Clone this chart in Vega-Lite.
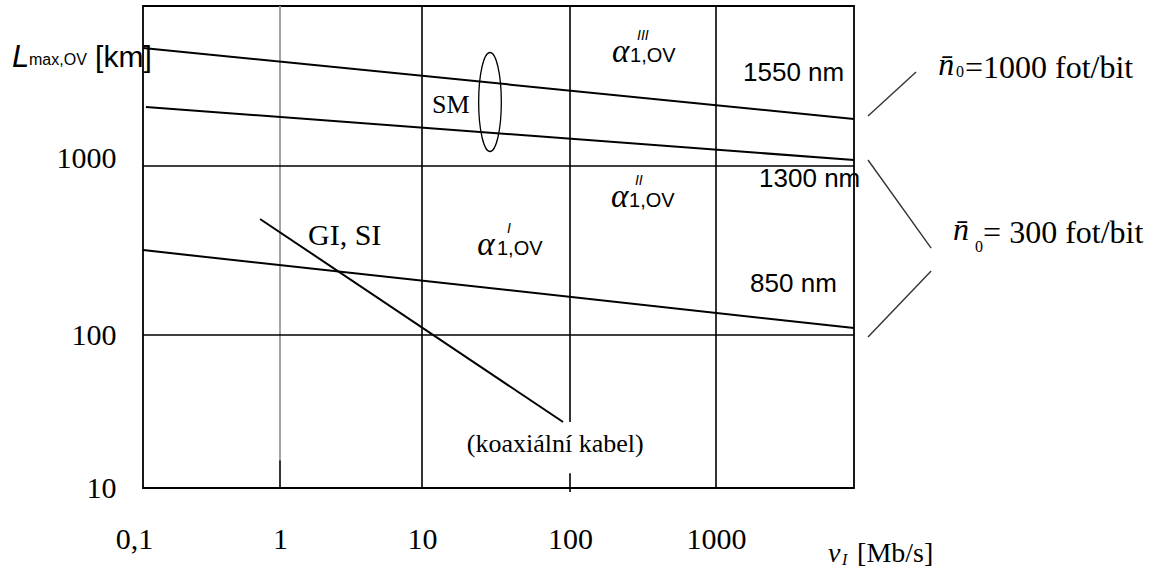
{
  "$schema": "https://vega.github.io/schema/vega-lite/v6.json",
  "width": 711,
  "height": 482,
  "autosize": {"type": "none"},
  "padding": {"left": 143, "top": 6, "right": 304, "bottom": 84},
  "background": "white",
  "config": {
    "view": {"stroke": "black", "strokeWidth": 1.8},
    "font": "Liberation Serif"
  },
  "datasets": {
    "curves": [
      {"s": "1550", "v": 0.1, "L": 5465}, {"s": "1550", "v": 8810, "L": 1968},
      {"s": "1300", "v": 0.105, "L": 2338}, {"s": "1300", "v": 8810, "L": 1090},
      {"s": "850", "v": 0.1, "L": 318}, {"s": "850", "v": 8810, "L": 110},
      {"s": "GI", "v": 0.715, "L": 486}, {"s": "GI", "v": 89.8, "L": 27}
    ],
    "brackets": [
      {"s": "a", "v": 10990, "L": 2054}, {"s": "a", "v": 23440, "L": 3868},
      {"s": "b", "v": 10990, "L": 1090}, {"s": "b", "v": 29730, "L": 327},
      {"s": "c", "v": 10990, "L": 97}, {"s": "c", "v": 29730, "L": 239}
    ],
    "vgrid": [
      {"v": 10, "L": 10000, "L2": 10},
      {"v": 1000, "L": 10000, "L2": 10},
      {"v": 100, "L": 10000, "L2": 27},
      {"v": 100, "L": 12.5, "L2": 9.4},
      {"v": 1, "L": 15.2, "L2": 10}
    ],
    "vgridGray": [{"v": 1, "L": 10000, "L2": 15.2}],
    "hgrid": [
      {"v": 0.1, "v2": 8810, "L": 1000},
      {"v": 0.1, "v2": 8810, "L": 100}
    ],
    "ellipse": [{"v": 28.8, "L": 2512}],
    "texts": [
      {"g": "sans26", "t": "1550 nm", "v": 1531, "L": 3398},
      {"g": "sans26", "t": "1300 nm", "v": 1972, "L": 752},
      {"g": "sans26", "t": "850 nm", "v": 1711, "L": 179.5},
      {"g": "sans20", "t": "1,OV", "v": 258, "L": 4467},
      {"g": "sans20", "t": "1,OV", "v": 253.6, "L": 571},
      {"g": "sans20", "t": "1,OV", "v": 32.1, "L": 297},
      {"g": "alpha", "t": "α", "v": 194, "L": 4467},
      {"g": "alpha", "t": "α", "v": 191, "L": 571},
      {"g": "alpha", "t": "α", "v": 23.6, "L": 297},
      {"g": "serifIt28", "t": "v", "v": 5847, "L": 3.28},
      {"g": "sup", "t": "III", "v": 288, "L": 6131},
      {"g": "sup", "t": "II", "v": 278.6, "L": 773},
      {"g": "sup", "t": "I", "v": 37.5, "L": 402},
      {"g": "serif26", "t": "SM", "v": 11.7, "L": 2143},
      {"g": "serif26", "t": "(koaxiální kabel)", "v": 20.1, "L": 17.2},
      {"g": "serif30", "t": "GI, SI", "v": 1.574, "L": 341},
      {"g": "serif32", "t": "=1000 fot/bit", "v": 50700, "L": 3548},
      {"g": "serif32", "t": "= 300 fot/bit", "v": 67450, "L": 350},
      {"g": "nbar", "t": "n̄", "v": 33200, "L": 3704},
      {"g": "nbar", "t": "n̄", "v": 41980, "L": 365},
      {"g": "sub16", "t": "0", "v": 44030, "L": 3597},
      {"g": "sub16", "t": "0", "v": 59400, "L": 310},
      {"g": "serifIt16", "t": "I", "v": 7294, "L": 3.14},
      {"g": "serif28", "t": "[Mb/s]", "v": 9248, "L": 3.28},
      {"g": "sansIt30", "t": "L", "v": 0.01107, "L": 4154},
      {"g": "sans16", "t": "max,OV", "v": 0.01473, "L": 4276},
      {"g": "sans30", "t": "[km]", "v": 0.0447, "L": 4154}
    ]
  },
  "encoding": {
    "x": {
      "field": "v", "type": "quantitative",
      "scale": {"type": "log", "domain": [0.1, 1, 10, 100, 1000, 8810], "range": [0, 137, 279, 427, 573, 711], "nice": false, "zero": false},
      "axis": {
        "title": null, "domain": false, "ticks": false, "tickSize": 0, "grid": false,
        "values": [0.1, 1, 10, 100, 1000],
        "labelExpr": "datum.value < 1 ? '0,1' : format(datum.value, 'd')",
        "labelFont": "Liberation Serif", "labelFontSize": 30, "labelColor": "black",
        "labelPadding": 36, "labelFlush": false, "labelOverlap": false, "labelBound": false,
        "labelOffset": {"condition": {"test": "datum.value < 1", "value": -9}, "value": 0}
      }
    },
    "y": {
      "field": "L", "type": "quantitative",
      "scale": {"type": "log", "domain": [10, 100, 1000, 10000], "range": [482, 329, 160, 0], "nice": false, "zero": false},
      "axis": {
        "title": null, "domain": false, "ticks": false, "tickSize": 0, "grid": false,
        "values": [10, 100, 1000],
        "labelExpr": "format(datum.value, 'd')",
        "labelFont": "Liberation Serif", "labelFontSize": 30, "labelColor": "black",
        "labelPadding": 27, "labelBaseline": "middle", "labelFlush": false, "labelOverlap": false, "labelBound": false,
        "labelOffset": {"condition": {"test": "datum.value > 500", "value": -8}, "value": 0}
      }
    }
  },
  "layer": [
    {"data": {"name": "vgridGray"}, "mark": {"type": "rule", "color": "#9a9a9a", "strokeWidth": 1.8}, "encoding": {"y2": {"field": "L2"}}},
    {"data": {"name": "vgrid"}, "mark": {"type": "rule", "color": "black", "strokeWidth": 1.6}, "encoding": {"y2": {"field": "L2"}}},
    {"data": {"name": "hgrid"}, "mark": {"type": "rule", "color": "black", "strokeWidth": 1.6}, "encoding": {"x2": {"field": "v2"}}},
    {"data": {"name": "curves"}, "mark": {"type": "line", "color": "black", "strokeWidth": 2}, "encoding": {"detail": {"field": "s"}}},
    {"data": {"name": "brackets"}, "mark": {"type": "line", "color": "#333333", "strokeWidth": 1.4}, "encoding": {"detail": {"field": "s"}}},
    {"data": {"name": "ellipse"}, "mark": {"type": "point", "shape": "M0,-1A0.229,1,0,1,1,0,1A0.229,1,0,1,1,0,-1Z", "size": 9801, "filled": false, "stroke": "black", "strokeWidth": 1.3, "opacity": 1}, "encoding": {}},
    {"data": {"name": "texts"}, "transform": [{"filter": "datum.g == 'sans26'"}], "mark": {"type": "text", "align": "left", "baseline": "alphabetic", "font": "Liberation Sans", "fontSize": 26, "color": "black"}, "encoding": {"text": {"field": "t"}}},
    {"data": {"name": "texts"}, "transform": [{"filter": "datum.g == 'sans20'"}], "mark": {"type": "text", "align": "left", "baseline": "alphabetic", "font": "Liberation Sans", "fontSize": 20, "color": "black"}, "encoding": {"text": {"field": "t"}}},
    {"data": {"name": "texts"}, "transform": [{"filter": "datum.g == 'alpha'"}], "mark": {"type": "text", "align": "left", "baseline": "alphabetic", "font": "Liberation Serif", "fontStyle": "italic", "fontSize": 33, "color": "black"}, "encoding": {"text": {"field": "t"}}},
    {"data": {"name": "texts"}, "transform": [{"filter": "datum.g == 'serifIt28'"}], "mark": {"type": "text", "align": "left", "baseline": "alphabetic", "font": "Liberation Serif", "fontStyle": "italic", "fontSize": 28, "color": "black"}, "encoding": {"text": {"field": "t"}}},
    {"data": {"name": "texts"}, "transform": [{"filter": "datum.g == 'sup'"}], "mark": {"type": "text", "align": "left", "baseline": "alphabetic", "font": "Liberation Sans", "fontStyle": "italic", "fontSize": 14, "color": "black"}, "encoding": {"text": {"field": "t"}}},
    {"data": {"name": "texts"}, "transform": [{"filter": "datum.g == 'serif26'"}], "mark": {"type": "text", "align": "left", "baseline": "alphabetic", "font": "Liberation Serif", "fontSize": 26, "color": "black"}, "encoding": {"text": {"field": "t"}}},
    {"data": {"name": "texts"}, "transform": [{"filter": "datum.g == 'serif30'"}], "mark": {"type": "text", "align": "left", "baseline": "alphabetic", "font": "Liberation Serif", "fontSize": 30, "color": "black"}, "encoding": {"text": {"field": "t"}}},
    {"data": {"name": "texts"}, "transform": [{"filter": "datum.g == 'serif32'"}], "mark": {"type": "text", "align": "left", "baseline": "alphabetic", "font": "Liberation Serif", "fontSize": 32, "color": "black"}, "encoding": {"text": {"field": "t"}}},
    {"data": {"name": "texts"}, "transform": [{"filter": "datum.g == 'nbar'"}], "mark": {"type": "text", "align": "left", "baseline": "alphabetic", "font": "Liberation Serif", "fontStyle": "italic", "fontSize": 32, "color": "black"}, "encoding": {"text": {"field": "t"}}},
    {"data": {"name": "texts"}, "transform": [{"filter": "datum.g == 'sub16'"}], "mark": {"type": "text", "align": "left", "baseline": "alphabetic", "font": "Liberation Serif", "fontSize": 16, "color": "black"}, "encoding": {"text": {"field": "t"}}},
    {"data": {"name": "texts"}, "transform": [{"filter": "datum.g == 'serifIt16'"}], "mark": {"type": "text", "align": "left", "baseline": "alphabetic", "font": "Liberation Serif", "fontStyle": "italic", "fontSize": 16, "color": "black"}, "encoding": {"text": {"field": "t"}}},
    {"data": {"name": "texts"}, "transform": [{"filter": "datum.g == 'serif28'"}], "mark": {"type": "text", "align": "left", "baseline": "alphabetic", "font": "Liberation Serif", "fontSize": 28, "color": "black"}, "encoding": {"text": {"field": "t"}}},
    {"data": {"name": "texts"}, "transform": [{"filter": "datum.g == 'sansIt30'"}], "mark": {"type": "text", "align": "left", "baseline": "alphabetic", "font": "Liberation Sans", "fontStyle": "italic", "fontSize": 31, "color": "black"}, "encoding": {"text": {"field": "t"}}},
    {"data": {"name": "texts"}, "transform": [{"filter": "datum.g == 'sans16'"}], "mark": {"type": "text", "align": "left", "baseline": "alphabetic", "font": "Liberation Sans", "fontSize": 16, "color": "black"}, "encoding": {"text": {"field": "t"}}},
    {"data": {"name": "texts"}, "transform": [{"filter": "datum.g == 'sans30'"}], "mark": {"type": "text", "align": "left", "baseline": "alphabetic", "font": "Liberation Sans", "fontSize": 30, "color": "black"}, "encoding": {"text": {"field": "t"}}}
  ]
}
